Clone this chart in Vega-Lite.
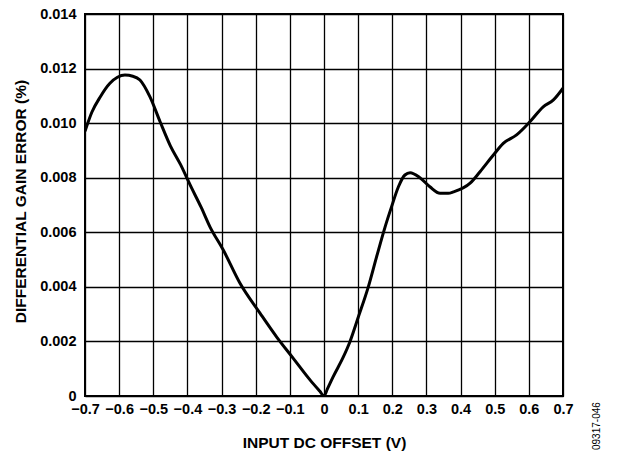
{
  "$schema": "https://vega.github.io/schema/vega-lite/v6.json",
  "autosize": "none",
  "width": 478,
  "height": 382,
  "padding": {"left": 85, "top": 14, "right": 65, "bottom": 56},
  "background": "white",
  "config": {
    "font": "Liberation Sans",
    "view": {"stroke": "black", "strokeWidth": 2},
    "axis": {
      "grid": true,
      "gridColor": "black",
      "gridOpacity": 1,
      "gridWidth": 1.3,
      "domain": false,
      "ticks": false,
      "labelFont": "Liberation Sans",
      "labelFontWeight": "bold",
      "labelFontSize": 14.5,
      "labelColor": "black",
      "titleFont": "Liberation Sans",
      "titleFontWeight": "bold",
      "titleFontSize": 15.5,
      "titleColor": "black"
    }
  },
  "data": {
    "values": [
      {"x": -0.7, "v": 0.0097},
      {"x": -0.68, "v": 0.0104},
      {"x": -0.655, "v": 0.01097},
      {"x": -0.627, "v": 0.01146},
      {"x": -0.605, "v": 0.01168},
      {"x": -0.583, "v": 0.01176},
      {"x": -0.56, "v": 0.01172},
      {"x": -0.539, "v": 0.01158},
      {"x": -0.51, "v": 0.01097},
      {"x": -0.48, "v": 0.01005},
      {"x": -0.45, "v": 0.00917},
      {"x": -0.42, "v": 0.00848},
      {"x": -0.39, "v": 0.00768},
      {"x": -0.36, "v": 0.00692},
      {"x": -0.334, "v": 0.0062},
      {"x": -0.295, "v": 0.00535},
      {"x": -0.246, "v": 0.00413},
      {"x": -0.187, "v": 0.00303},
      {"x": -0.139, "v": 0.00217},
      {"x": -0.09, "v": 0.00138},
      {"x": -0.041, "v": 0.00059},
      {"x": -0.012, "v": 0.00017},
      {"x": 0, "v": 0},
      {"x": 0.01, "v": 0.00026},
      {"x": 0.027, "v": 0.00071},
      {"x": 0.057, "v": 0.00144},
      {"x": 0.076, "v": 0.00199},
      {"x": 0.101, "v": 0.00291},
      {"x": 0.13, "v": 0.00401},
      {"x": 0.154, "v": 0.0051},
      {"x": 0.179, "v": 0.0062},
      {"x": 0.198, "v": 0.00694},
      {"x": 0.218, "v": 0.00767},
      {"x": 0.237, "v": 0.0081},
      {"x": 0.252, "v": 0.00818},
      {"x": 0.281, "v": 0.008},
      {"x": 0.31, "v": 0.00767},
      {"x": 0.34, "v": 0.00743},
      {"x": 0.364, "v": 0.00743},
      {"x": 0.379, "v": 0.00748},
      {"x": 0.428, "v": 0.0078},
      {"x": 0.457, "v": 0.00822},
      {"x": 0.496, "v": 0.00883},
      {"x": 0.525, "v": 0.00926},
      {"x": 0.564, "v": 0.00957},
      {"x": 0.603, "v": 0.01005},
      {"x": 0.642, "v": 0.0106},
      {"x": 0.672, "v": 0.01085},
      {"x": 0.7, "v": 0.01128}
    ]
  },
  "layer": [
    {
      "mark": {"type": "line", "color": "black", "strokeWidth": 3, "interpolate": "monotone", "clip": true},
      "encoding": {
        "x": {
          "field": "x",
          "type": "quantitative",
          "scale": {"domain": [-0.7, 0.7], "nice": false, "zero": false},
          "axis": {
            "values": [-0.7, -0.6, -0.5, -0.4, -0.3, -0.2, -0.1, 0, 0.1, 0.2, 0.3, 0.4, 0.5, 0.6, 0.7],
            "tickCount": 30,
            "labelExpr": "datum.value == 0 ? '0' : replace(format(datum.value, '.1f'), '-', '–')",
            "labelPadding": 6,
            "labelFlush": false,
            "labelOverlap": false,
            "title": "INPUT DC OFFSET (V)",
            "titleY": 46,
            "titleBaseline": "middle"
          }
        },
        "y": {
          "field": "v",
          "type": "quantitative",
          "scale": {"domain": [0, 0.014], "nice": false},
          "axis": {
            "values": [0, 0.002, 0.004, 0.006, 0.008, 0.01, 0.012, 0.014],
            "tickCount": 20,
            "labelExpr": "datum.value == 0 ? '0' : format(datum.value, '.3f')",
            "labelPadding": 9,
            "labelFlush": false,
            "labelOverlap": false,
            "title": "DIFFERENTIAL GAIN ERROR (%)",
            "titleAngle": 270,
            "titleX": -65,
            "titleY": 187,
            "titleAlign": "center",
            "titleBaseline": "middle"
          }
        }
      }
    },
    {
      "data": {"values": [{"label": "09317-046"}]},
      "mark": {"type": "text", "angle": 270, "align": "left", "baseline": "middle", "dx": -54, "dy": 34, "fontSize": 10, "font": "Liberation Sans", "color": "black"},
      "encoding": {
        "x": {"datum": 0.7, "type": "quantitative"},
        "y": {"datum": 0, "type": "quantitative"},
        "text": {"field": "label"}
      }
    }
  ]
}
